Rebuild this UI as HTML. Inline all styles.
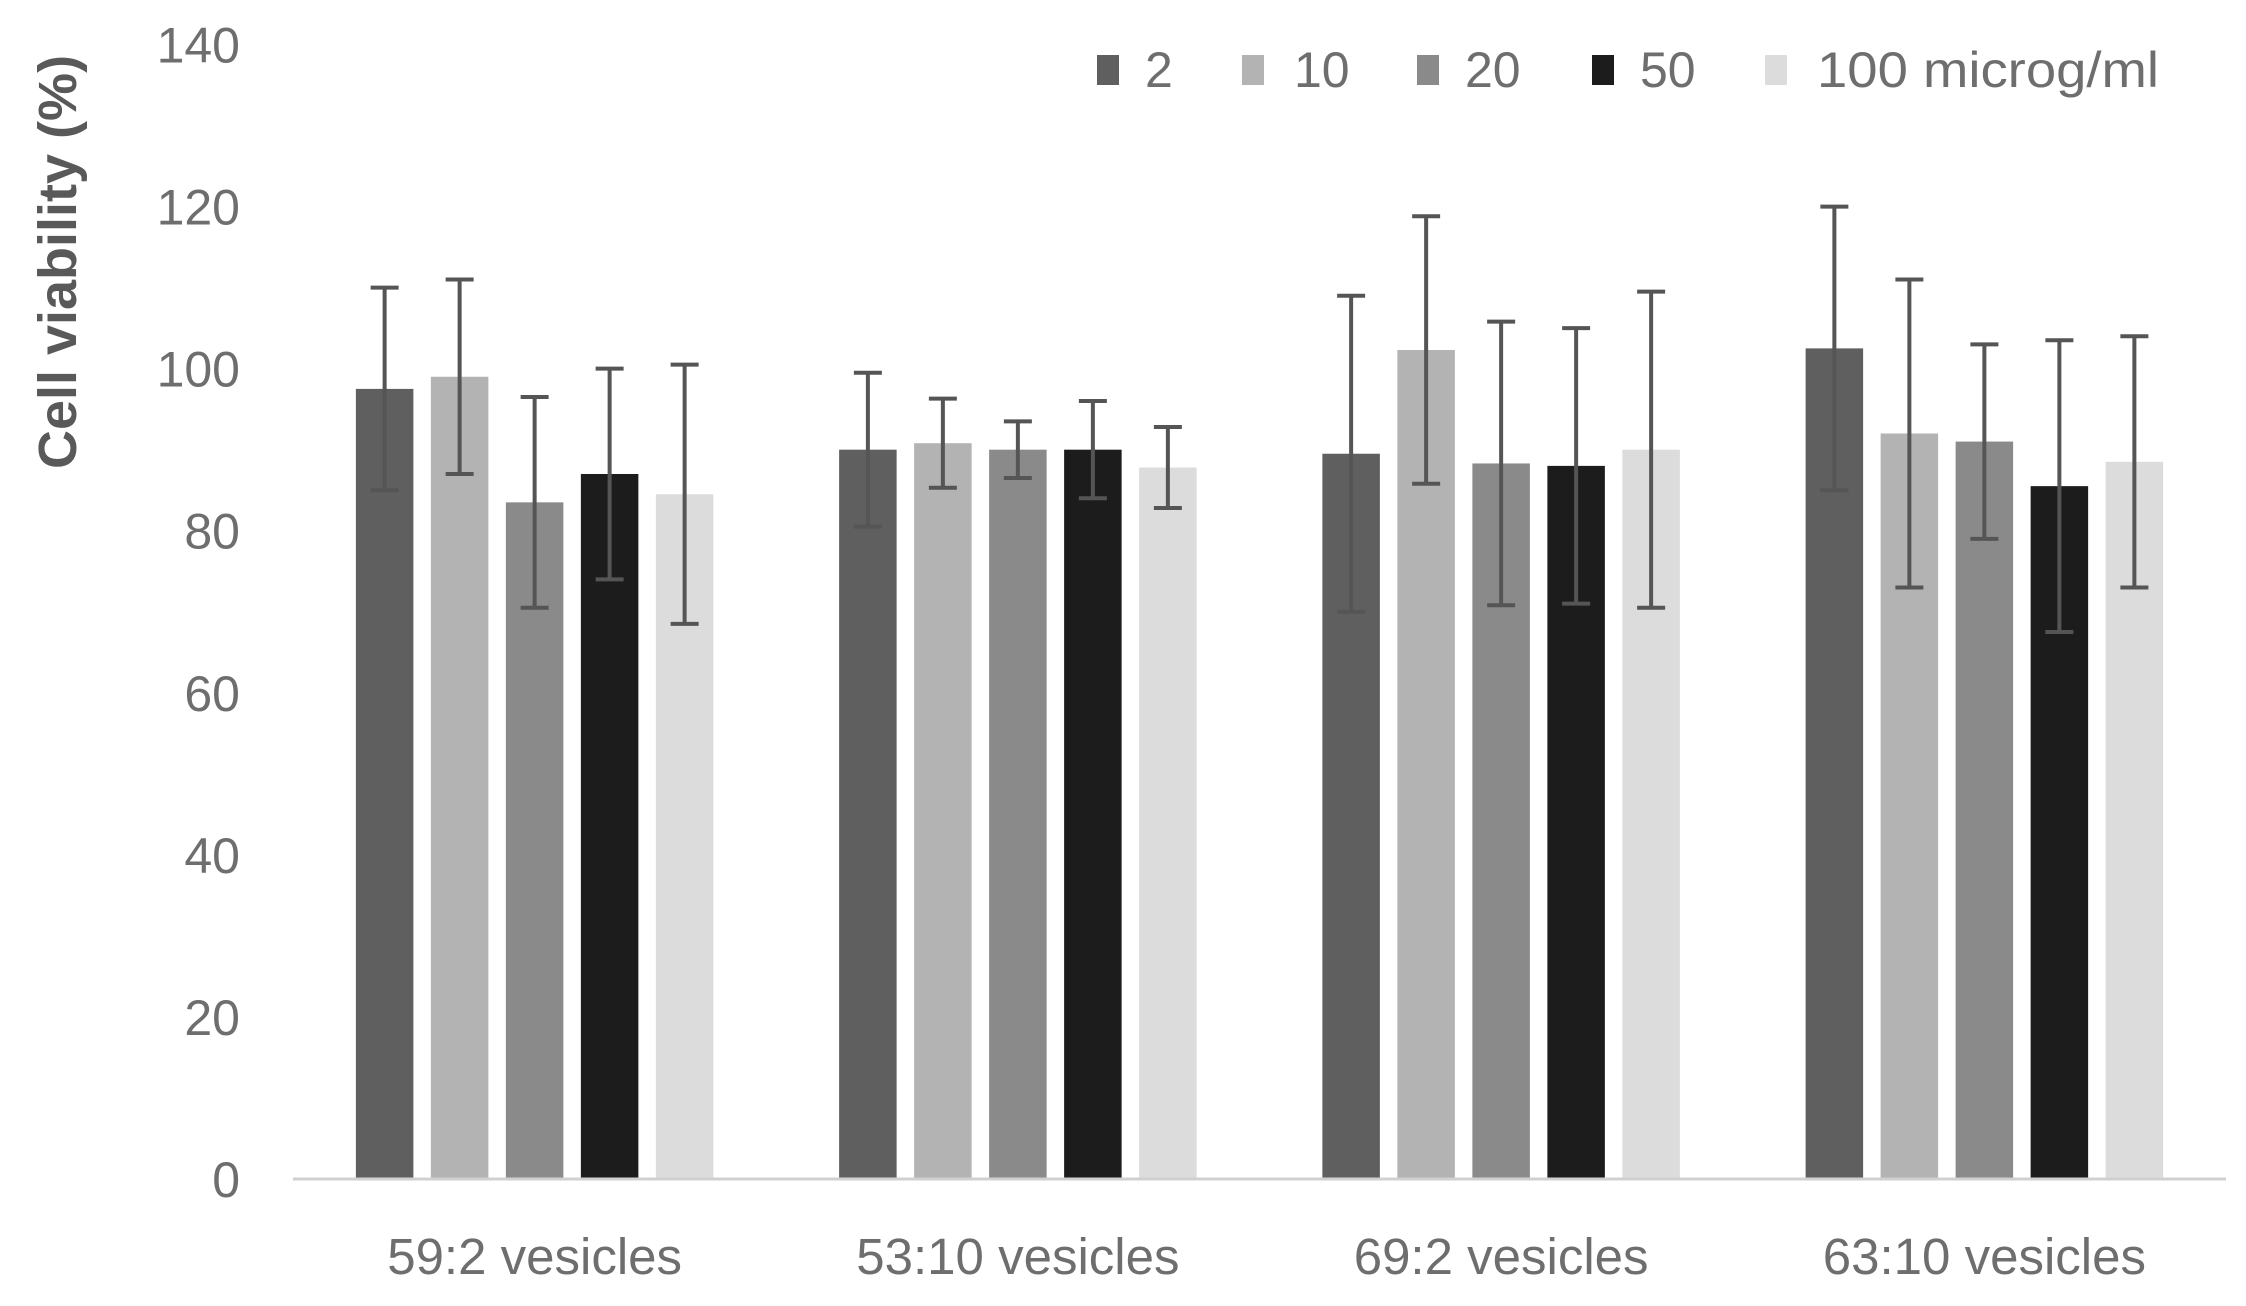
<!DOCTYPE html>
<html><head><meta charset="utf-8"><style>
html,body{margin:0;padding:0;background:#fff;}
svg{display:block;font-family:"Liberation Sans",sans-serif;}
</style></head><body>
<svg id="chart" width="2246" height="1306" viewBox="0 0 2246 1306" xmlns="http://www.w3.org/2000/svg">
<rect width="2246" height="1306" fill="#fff"/>
<text transform="translate(76,262) rotate(-90)" text-anchor="middle" font-size="54" font-weight="bold" fill="#595959">Cell viability (%)</text>
<g id="yticks"></g><g id="bars"></g><g id="errs"></g><g id="xlabels"></g><g id="legend"></g>
<line x1="293" y1="1179" x2="2226" y2="1179" stroke="#d0d0d0" stroke-width="3"/>
</svg>
<script>
const categories = ["59:2 vesicles","53:10 vesicles","69:2 vesicles","63:10 vesicles"];
const seriesNames = ["2","10","20","50","100 microg/ml"];
const seriesColors = ["#5f5f5f","#b3b3b3","#8a8a8a","#1c1c1c","#dcdcdc"];
const s2 = [97.5, 90, 89.5, 102.5];
const s10 = [99, 90.8, 102.3, 92];
const s20 = [83.5, 90, 88.3, 91];
const s50 = [87, 90, 88, 85.5];
const s100 = [84.5, 87.8, 90, 88.5];
const e2 = [12.5, 9.5, 19.5, 17.5];
const e10 = [12, 5.5, 16.5, 19];
const e20 = [13, 3.5, 17.5, 12];
const e50 = [13, 6, 17, 18];
const e100 = [16, 5, 19.5, 15.5];
const yTicks = [0,20,40,60,80,100,120,140];

const series=[s2,s10,s20,s50,s100], errs=[e2,e10,e20,e50,e100];
const NS="http://www.w3.org/2000/svg";
const x0=293, x1=2226, y0=1179, yTop=44.5, vMax=140;
const yS=v=>y0-(y0-yTop)*v/vMax;
const catW=(x1-x0)/categories.length;
const barW=57.5, stride=75;
const barX=(c,s)=>x0+catW*c+catW/2-(stride*2)-barW/2+stride*s;
function mk(t,a,p){const e=document.createElementNS(NS,t);for(const k in a)e.setAttribute(k,a[k]);p.appendChild(e);return e;}
const gy=document.getElementById('yticks');
yTicks.forEach(v=>{const t=mk('text',{x:240,y:yS(v)+18,'text-anchor':'end','font-size':50,fill:'#6e6e6e'},gy);t.textContent=v;

});
const gb=document.getElementById('bars'), ge=document.getElementById('errs'), gx=document.getElementById('xlabels');
categories.forEach((c,ci)=>{
  series.forEach((s,si)=>{
    const x=barX(ci,si), y=yS(s[ci]);
    const r=mk('rect',{x:x,y:y,width:barW,height:y0-y,fill:seriesColors[si]},gb);
    
    
    const cx=x+barW/2, yt=yS(s[ci]+errs[si][ci]), yb=yS(s[ci]-errs[si][ci]);
    const g=mk('g',{stroke:'#555','stroke-width':4},ge);
    
    
    mk('line',{x1:cx,y1:yt,x2:cx,y2:yb},g);
    mk('line',{x1:cx-14,y1:yt,x2:cx+14,y2:yt},g);
    mk('line',{x1:cx-14,y1:yb,x2:cx+14,y2:yb},g);
  });
  const t=mk('text',{x:x0+catW*ci+catW/2,y:1274,'text-anchor':'middle','font-size':51,fill:'#6e6e6e'},gx);
  t.textContent=c;
  
  
});
const gl=document.getElementById('legend');
const lsq=[1097,1242,1417,1592,1765];
const ltx=[1145,1294,1465,1640,1817];
seriesNames.forEach((n,i)=>{
  const g=mk('g',{},gl);
  
  
  mk('rect',{x:lsq[i],y:55,width:22,height:30,fill:seriesColors[i]},g);
  const a={x:ltx[i],y:87,'font-size':50,fill:'#6e6e6e'};
  if(i===4){a.textLength=342;a.lengthAdjust='spacingAndGlyphs';}
  const t=mk('text',a,g);
  t.textContent=n;
});
</script>
</body></html>
